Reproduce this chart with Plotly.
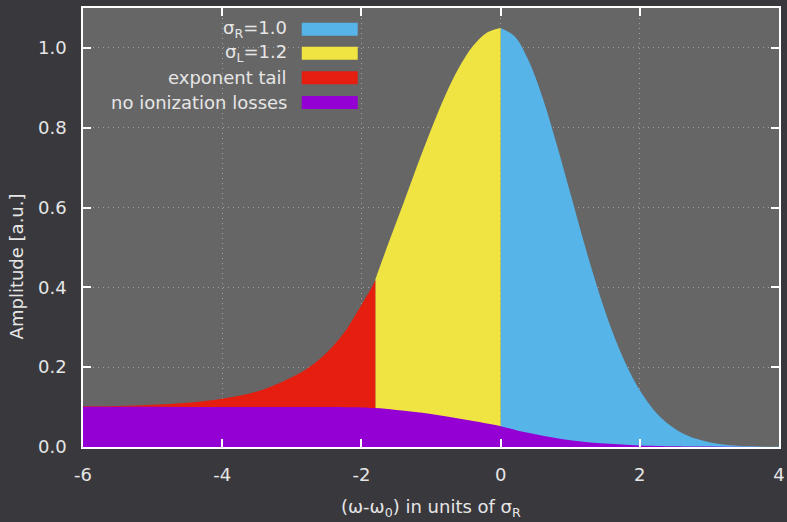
import plotly.graph_objects as go

# ---- data ----
x_right = [0.0, 0.2, 0.4, 0.6, 0.8, 1.0, 1.2, 1.4, 1.6, 1.8, 2.0, 2.2, 2.4, 2.6, 2.8, 3.0,
           3.2, 3.4, 3.6, 3.8, 4.0]
y_right = [1.05, 1.029, 0.969, 0.877, 0.762, 0.637, 0.511, 0.394, 0.292, 0.208, 0.142, 0.093,
           0.059, 0.036, 0.021, 0.012, 0.0063, 0.0033, 0.0016, 0.0008, 0.0004]

x_left = [-1.8, -1.6, -1.4, -1.2, -1.0, -0.8, -0.6, -0.4, -0.2, 0.0]
y_left = [0.42, 0.516, 0.609, 0.704, 0.795, 0.879, 0.950, 1.004, 1.038, 1.05]

x_tail = [-6.0, -5.5, -5.0, -4.5, -4.0, -3.5, -3.0, -2.75, -2.5, -2.25, -2.0, -1.9, -1.8]
y_tail = [0.102, 0.103, 0.106, 0.111, 0.121, 0.139, 0.175, 0.200, 0.236, 0.286, 0.356, 0.385, 0.418]

x_noion = [-6.0, -5.0, -4.0, -3.0, -2.5, -2.0, -1.8, -1.5, -1.0, -0.5, 0.0, 0.25, 0.5, 0.75,
           1.0, 1.25, 1.5, 1.75, 2.0, 2.5, 3.0, 4.0]
y_noion = [0.101, 0.101, 0.100, 0.100, 0.100, 0.099, 0.0975, 0.093, 0.083, 0.068, 0.052, 0.041,
           0.032, 0.024, 0.017, 0.012, 0.009, 0.0065, 0.004, 0.002, 0.001, 0.0]

series_names = ["σ<sub>R</sub>=1.0", "σ<sub>L</sub>=1.2", "exponent tail", "no ionization losses"]
series_colors = ["#56b4e9", "#f0e442", "#e51e10", "#9400d3"]

x_tickvals = [-6, -4, -2, 0, 2, 4]
x_ticktext = ["-6", "-4", "-2", "0", "2", "4"]
y_tickvals = [0.0, 0.2, 0.4, 0.6, 0.8, 1.0]
y_ticktext = ["0.0", "0.2", "0.4", "0.6", "0.8", "1.0"]

FONT = "DejaVu Sans"
TXT = "#e6e6e6"
PAPER = "#39383d"

fig = go.Figure()
for xs, ys, name, col in zip([x_right, x_left, x_tail, x_noion],
                             [y_right, y_left, y_tail, y_noion],
                             series_names, series_colors):
    fig.add_trace(go.Scatter(x=xs, y=ys, mode="lines", fill="tozeroy", fillcolor=col,
                             line=dict(width=0, color=col, shape="spline", smoothing=1.0),
                             name=name, showlegend=False, hoverinfo="skip"))

# custom legend (text right-aligned, swatch to its right)
row_y = [0.9515, 0.8968, 0.8411, 0.7846]
half_h = 0.0148
for name, col, ry in zip(series_names, series_colors, row_y):
    fig.add_shape(type="rect", xref="paper", yref="paper", x0=0.3143, x1=0.3947,
                  y0=ry - half_h, y1=ry + half_h, fillcolor=col, line=dict(width=0))
    fig.add_annotation(xref="paper", yref="paper", x=0.2965, y=ry, text=name, showarrow=False,
                       xanchor="right", yanchor="middle", font=dict(family=FONT, size=18, color=TXT))

# axis titles
fig.add_annotation(xref="paper", yref="paper", x=0.5, y=-0.1397,
                   text="(ω-ω<sub>0</sub>) in units of σ<sub>R</sub>", showarrow=False,
                   xanchor="center", yanchor="middle", font=dict(family=FONT, size=18, color=TXT))
fig.add_annotation(xref="paper", yref="paper", x=-0.0959, y=0.412, text="Amplitude [a.u.]",
                   textangle=-90, showarrow=False, xanchor="center", yanchor="middle",
                   font=dict(family=FONT, size=18, color=TXT))

axis_common = dict(showline=True, linecolor="white", linewidth=1.5, mirror="allticks",
                   ticks="inside", ticklen=8, tickcolor="white", tickwidth=1.5,
                   showgrid=True, gridcolor="rgba(210,210,210,0.55)", griddash="1px,4px",
                   gridwidth=1, zeroline=False, automargin=False,
                   tickfont=dict(family=FONT, size=18, color=TXT))

fig.update_xaxes(range=[-6, 4], tickvals=x_tickvals, ticktext=x_ticktext,
                 ticklabelstandoff=11, **axis_common)
fig.update_yaxes(range=[0, 1.1], tickvals=y_tickvals, ticktext=y_ticktext,
                 ticklabelstandoff=11, **axis_common)

fig.update_layout(width=787, height=522, autosize=False,
                  margin=dict(l=83, r=8, t=8, b=75, pad=0),
                  paper_bgcolor=PAPER, plot_bgcolor="#666666",
                  showlegend=False, font=dict(family=FONT, color=TXT))

page_js = ("document.documentElement.style.margin='0';document.body.style.margin='0';"
           "document.body.style.padding='0';document.body.style.overflow='hidden';"
           "document.body.style.background='" + PAPER + "';"
           "document.documentElement.style.background='" + PAPER + "';")

fig.write_html("out.html", post_script=page_js, config={"displayModeBar": False})
